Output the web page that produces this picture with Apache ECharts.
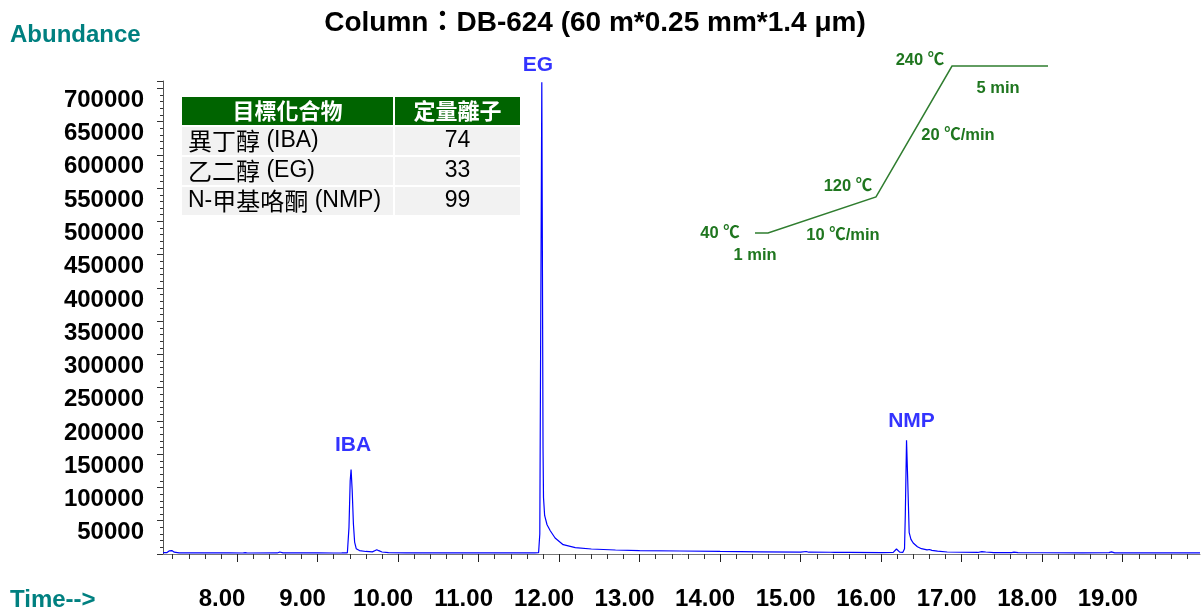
<!DOCTYPE html>
<html>
<head>
<meta charset="utf-8">
<script src="https://cdn.jsdelivr.net/npm/echarts@6/dist/echarts.min.js"></script>
<style>
html,body{margin:0;padding:0;background:#fff;}
#chart{width:1201px;height:614px;}
</style>
</head>
<body>
<div id="chart"></div>
<script>
// ---------- data ----------
const chartTitle = 'Column：DB-624 (60 m*0.25 mm*1.4 μm)';
const yAxisName = 'Abundance';
const xAxisName = 'Time-->';
const xTickValues = [8, 9, 10, 11, 12, 13, 14, 15, 16, 17, 18, 19];

// chromatogram trace (time in min, abundance)
const traceTime = [
  7.08, 7.13, 7.16, 7.19, 7.22, 7.28, 7.6, 7.9, 8.07, 8.1, 8.13, 8.5, 8.53, 8.57,
  9.0, 9.2, 9.3, 9.37, 9.39, 9.405, 9.416, 9.43, 9.445, 9.46, 9.48, 9.52, 9.6, 9.68,
  9.71, 9.735, 9.76, 9.8, 9.88, 10.1, 10.5, 11.0, 11.4, 11.7, 11.745, 11.76, 11.772,
  11.785, 11.793, 11.8, 11.806, 11.82, 11.85, 11.89, 11.95, 12.05, 12.2, 12.4, 12.7,
  13.0, 13.5, 14.0, 14.5, 15.0, 15.07, 15.1, 15.37, 15.39, 15.42, 15.53, 15.55, 15.6,
  16.0, 16.15, 16.19, 16.23, 16.27, 16.29, 16.30, 16.315, 16.33, 16.348, 16.37, 16.398,
  16.45, 16.5, 16.57, 16.6, 16.63, 16.7, 16.82, 17.0, 17.2, 17.25, 17.27, 17.3, 17.4,
  17.62, 17.65, 17.7, 18.0, 18.5, 18.83, 18.86, 18.9, 19.5, 19.96
];
const traceAbund = [
  2000, 2200, 4800, 5200, 2800, 1800, 1600, 1700, 1500, 2200, 1500, 1600, 3000, 1700,
  1600, 1500, 1600, 1800, 40000, 110000, 127000, 95000, 45000, 18000, 8000, 5200, 3800, 3200,
  5000, 6500, 5000, 3000, 2000, 1700, 1600, 1600, 1600, 1700, 2000, 30000, 360000,
  709000, 420000, 160000, 85000, 58000, 44000, 35000, 24000, 14000, 9500, 7500, 6000,
  5200, 4500, 3800, 3200, 2700, 3800, 2700, 2600, 3300, 2500, 2400, 3200, 2400,
  2200, 2500, 7500, 2800, 2500, 8000, 60000, 171000, 110000, 32000, 22000, 16500,
  11000, 8000, 6200, 6800, 5500, 4200, 3000, 2600, 2300, 3500, 5500, 3000, 2200,
  2000, 2800, 2000, 1900, 1800, 2000, 3200, 1800, 1700, 1700
];

// peak annotations
const peakNames = ['IBA', 'EG', 'NMP'];
const peakTimes = [9.416, 11.785, 16.315];
const peakHeights = [127000, 709000, 171000];

// quantitation table (compound name split into CJK part and abbreviation)
const tableHeader = ['目標化合物', '定量離子'];
const compoundPrefix = ['', '', 'N-'];
const compoundCJK = ['異丁醇', '乙二醇', '甲基咯酮'];
const compoundAbbr = ['(IBA)', '(EG)', '(NMP)'];
const quantIons = ['74', '33', '99'];

// oven temperature program (schematic)
const ovenTemps = ['40 ℃', '120 ℃', '240 ℃'];
const ovenRates = ['10 ℃/min', '20 ℃/min'];
const ovenHolds = ['1 min', '5 min'];

// ---------- chart ----------
const FONT = '"Liberation Sans", Arial, "Noto Sans CJK TC", sans-serif';
const CJK = '"Liberation Sans", "Noto Sans CJK TC", sans-serif';
const chart = echarts.init(document.getElementById('chart'), null, {renderer: 'canvas'});

const X_MIN = 7.08, X_MAX = 19.96;
const minorX = [];
for (let i = 36; i <= 99; i++) { const v = i / 5; if (v >= X_MIN && v <= X_MAX && i % 5 !== 0) minorX.push(v); }

const graphics = [];
// title and axis names
graphics.push({type: 'text', x: 595, y: 23, style: {text: chartTitle, font: 'bold 28px ' + CJK, fill: '#000', textAlign: 'center', textVerticalAlign: 'middle'}});
graphics.push({type: 'text', x: 10, y: 35, style: {text: yAxisName, font: 'bold 24px ' + FONT, fill: '#008080', textAlign: 'left', textVerticalAlign: 'middle'}});
graphics.push({type: 'text', x: 10, y: 600, style: {text: xAxisName, font: 'bold 24px ' + FONT, fill: '#008080', textAlign: 'left', textVerticalAlign: 'middle'}});

// table
const tX = 182, tMid = 393, tR = 520, tY = 97, rowH = 28, gap = 2;
graphics.push({type: 'rect', shape: {x: tX, y: tY, width: tMid - tX, height: rowH}, style: {fill: '#006400'}});
graphics.push({type: 'rect', shape: {x: tMid + gap, y: tY, width: tR - tMid - gap, height: rowH}, style: {fill: '#006400'}});
graphics.push({type: 'text', x: (tX + tMid) / 2, y: tY + rowH / 2, style: {text: tableHeader[0], font: 'bold 22px "Noto Sans CJK TC", sans-serif', fill: '#fff', textAlign: 'center', textVerticalAlign: 'middle'}});
graphics.push({type: 'text', x: (tMid + gap + tR) / 2, y: tY + rowH / 2, style: {text: tableHeader[1], font: 'bold 22px "Noto Sans CJK TC", sans-serif', fill: '#fff', textAlign: 'center', textVerticalAlign: 'middle'}});
compoundCJK.forEach((c, i) => {
  const y = tY + (rowH + gap) * (i + 1);
  graphics.push({type: 'rect', shape: {x: tX, y: y, width: tMid - tX, height: rowH}, style: {fill: '#f2f2f2'}});
  graphics.push({type: 'rect', shape: {x: tMid + gap, y: y, width: tR - tMid - gap, height: rowH}, style: {fill: '#f2f2f2'}});
  graphics.push({type: 'text', x: tX + 6, y: y + rowH / 2, style: {
    text: (compoundPrefix[i] ? '{lat|' + compoundPrefix[i] + '}' : '') + '{cjk|' + c + '}{lat| ' + compoundAbbr[i] + '}',
    rich: {
      cjk: {fontSize: 24, fontFamily: '"Noto Sans CJK TC", sans-serif', fill: '#000', fontWeight: 'normal'},
      lat: {fontSize: 23, fontFamily: FONT, fill: '#000', fontWeight: 'normal'}
    },
    textAlign: 'left', textVerticalAlign: 'middle'}});
  graphics.push({type: 'text', x: (tMid + gap + tR) / 2, y: y + rowH / 2, style: {text: quantIons[i], font: '23px ' + FONT, fill: '#000', textAlign: 'center', textVerticalAlign: 'middle'}});
});

// oven program schematic
const GREEN_LINE = '#2f7d2f', GREEN_TXT = '#1f761f';
graphics.push({type: 'polyline', shape: {points: [[755, 233], [768, 233], [876, 197], [952, 66], [1048, 66]]}, style: {stroke: GREEN_LINE, lineWidth: 1.5, fill: null}});
const ovenText = [
  [ovenTemps[0], 720, 233], [ovenHolds[0], 755, 255], [ovenRates[0], 843, 235],
  [ovenTemps[1], 848, 186], [ovenRates[1], 958, 135], [ovenTemps[2], 920, 60], [ovenHolds[1], 998, 88]
];
ovenText.forEach(t => graphics.push({type: 'text', x: t[1], y: t[2], style: {text: t[0], font: 'bold 16.5px ' + CJK, fill: GREEN_TXT, textAlign: 'center', textVerticalAlign: 'middle'}}));

const labelOffsets = [[2, -9], [-4, -2], [5, -3]];

const option = {
  backgroundColor: '#fff',
  animation: false,
  grid: {left: 163, right: 1, top: 81, bottom: 60, containLabel: false},
  xAxis: [
    {
      type: 'value', min: X_MIN, max: X_MAX, position: 'bottom',
      axisLine: {show: true, onZero: false, lineStyle: {color: '#777', width: 1}},
      axisTick: {show: true, customValues: xTickValues, length: 8, lineStyle: {color: '#222'}},
      axisLabel: {customValues: xTickValues, formatter: v => v.toFixed(2), fontSize: 24, fontWeight: 'bold', fontFamily: FONT, color: '#000', margin: 33, padding: [0, 30, 0, 0]},
      splitLine: {show: false}
    },
    {
      type: 'value', min: X_MIN, max: X_MAX, position: 'bottom', gridIndex: 0,
      axisLine: {show: false, onZero: false},
      axisTick: {show: true, customValues: minorX, length: 5, lineStyle: {color: '#333'}},
      axisLabel: {show: false},
      splitLine: {show: false}
    }
  ],
  yAxis: {
    type: 'value', min: 0, max: 711000, interval: 50000,
    axisLine: {show: true, lineStyle: {color: '#555', width: 1}},
    axisTick: {show: true, length: 6, lineStyle: {color: '#333'}},
    minorTick: {show: true, splitNumber: 5, length: 3, lineStyle: {color: '#333'}},
    axisLabel: {
      fontSize: 24, fontWeight: 'bold', fontFamily: FONT, color: '#000', margin: 19, verticalAlign: 'top',
      formatter: v => (v === 0 || v % 50000 !== 0) ? '' : String(v)
    },
    splitLine: {show: false}
  },
  graphic: graphics,
  series: [
    {
      type: 'line', xAxisIndex: 0, yAxisIndex: 0,
      data: traceTime.map((t, i) => [t, traceAbund[i]]),
      showSymbol: false, symbol: 'none', smooth: false,
      lineStyle: {color: '#0000ff', width: 1.2},
      z: 3
    },
    {
      type: 'scatter', xAxisIndex: 0, yAxisIndex: 0,
      symbolSize: 0.1,
      itemStyle: {color: 'rgba(0,0,0,0)'},
      data: peakNames.map((n, i) => ({
        name: n, value: [peakTimes[i], peakHeights[i]],
        label: {offset: labelOffsets[i]}
      })),
      label: {show: true, position: 'top', formatter: p => p.name, fontSize: 21, fontWeight: 'bold', fontFamily: FONT, color: '#0000ff'},
      silent: true, z: 4
    }
  ]
};
chart.setOption(option);
</script>
</body>
</html>
